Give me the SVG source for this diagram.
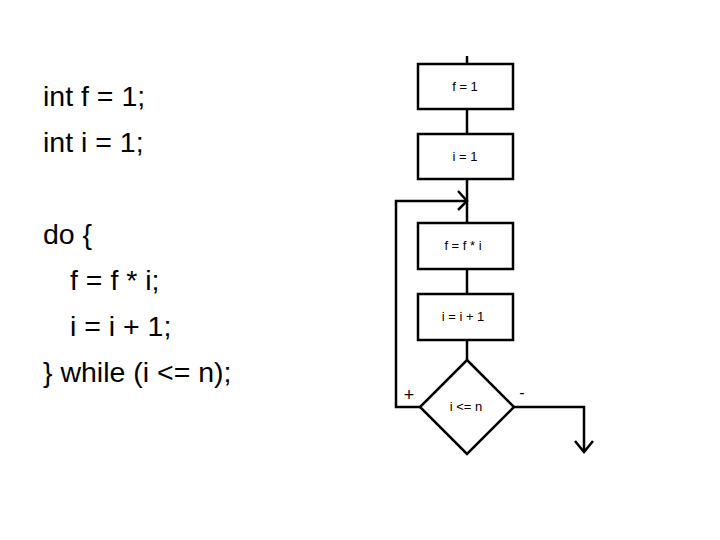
<svg xmlns="http://www.w3.org/2000/svg" width="720" height="540" viewBox="0 0 720 540">
<style>
.code{font-family:"Liberation Sans",Arial,sans-serif;font-size:28.5px;fill:#000}
.lbl{font-family:"Liberation Sans",Arial,sans-serif;font-size:13px;fill:#000;text-anchor:middle}
.box{fill:#fff;stroke:#000;stroke-width:2.5}
.ln{fill:none;stroke:#000;stroke-width:2.5}
</style>
<rect width="720" height="540" fill="#fff"/>
<g id="code">
<text class="code" x="43" y="106">int f = 1;</text>
<text class="code" x="43" y="152">int i = 1;</text>
<text class="code" x="43" y="244">do {</text>
<text class="code" x="70" y="290">f = f * i;</text>
<text class="code" x="70" y="336">i = i + 1;</text>
<text class="code" x="43" y="382">} while (i &lt;= n);</text>
</g>
<g id="connectors">
<path class="ln" d="M467,56 V64"/>
<path class="ln" d="M467,109 V133"/>
<path class="ln" d="M467,179 V223"/>
<path class="ln" d="M467,269 V293"/>
<path class="ln" d="M467,340 V360"/>
<path class="ln" d="M420,407 H396 V201 H467"/>
<path class="ln" d="M458,191 L467,201 L458,210"/>
<path class="ln" d="M514,407 H584 V452"/>
<path class="ln" d="M575,441 L584,452 L593,441"/>
<text class="lbl" x="409" y="401" style="font-size:18px">+</text>
<text class="lbl" x="522" y="398" style="font-size:16px">-</text>
</g>
<g id="n1"><rect class="box" x="418" y="64" width="95" height="45"/><text class="lbl" x="465" y="91">f = 1</text></g>
<g id="n2"><rect class="box" x="418" y="134" width="95" height="45"/><text class="lbl" x="465" y="161">i = 1</text></g>
<g id="n3"><rect class="box" x="418" y="223" width="95" height="46"/><text class="lbl" x="463" y="250">f = f * i</text></g>
<g id="n4"><rect class="box" x="418" y="294" width="95" height="46"/><text class="lbl" x="463" y="321">i = i + 1</text></g>
<g id="n5"><polygon class="box" points="467,360 514,407 467,454 420,407"/><text class="lbl" x="466" y="411">i &lt;= n</text></g>
</svg>
